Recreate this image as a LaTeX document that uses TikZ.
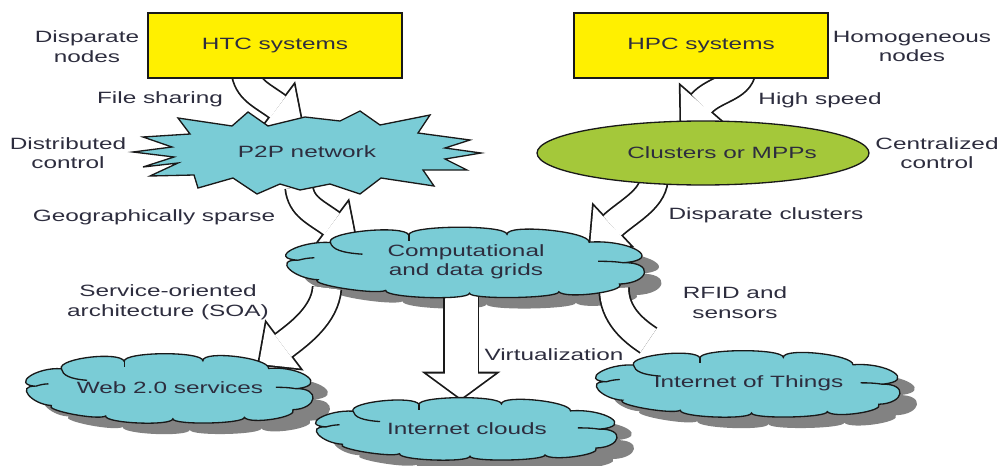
\documentclass[tikz,border=0pt]{standalone}
\usepackage{fontspec}
\setmainfont{Liberation Sans}[FakeStretch=1.49]
\usetikzlibrary{shapes.geometric,decorations.markings,calc}

\definecolor{boxyellow}{RGB}{255,240,0}
\definecolor{skyfill}{RGB}{122,204,214}
\definecolor{leafgreen}{RGB}{164,200,58}
\definecolor{shadowgray}{RGB}{130,130,130}
\definecolor{inkline}{RGB}{25,25,25}
\definecolor{inktext}{RGB}{45,45,62}

\pgfdeclarelayer{shades}
\pgfdeclarelayer{arrows}
\pgfsetlayers{shades,arrows,main}

% hollow block arrow: #1 outer width, #2 inner width, #3 head half width, #4 head length, #5 path
\newcommand\hollowarrow[5]{%
  \draw[line width=#1, draw=inkline, postaction={decorate},
    decoration={markings, mark=at position 1 with {%
      \filldraw[draw=inkline, fill=inkline, line width=2pt, line join=miter]
        (0,#3) -- (#4,0) -- (0,-#3) -- cycle;}}] #5;
  \draw[line width=#2, draw=white, postaction={decorate},
    decoration={markings, mark=at position 1 with {%
      \fill[white] (0,#3) -- (#4,0) -- (0,-#3) -- cycle;}}] #5;
}

% one puff of a cloud: from #1 through #2 to #3
\newcommand\puff[3]{.. controls ($0.3333*#1+1.3333*#2-0.6667*#3$)
  and ($0.3333*#3+1.3333*#2-0.6667*#1$) .. #3}

% cloud outline in unit coordinates (x right, y down)
\newcommand\cloudoutline{(-0.76,-0.55)
  \puff{(-0.76,-0.55)}{(-0.56,-0.88)}{(-0.32,-0.76)}
  \puff{(-0.32,-0.76)}{(-0.05,-0.98)}{(0.23,-0.78)}
  \puff{(0.23,-0.78)}{(0.46,-0.90)}{(0.69,-0.56)}
  \puff{(0.69,-0.56)}{(0.96,-0.33)}{(0.88,0.02)}
  \puff{(0.88,0.02)}{(1.0,0.30)}{(0.86,0.62)}
  \puff{(0.86,0.62)}{(0.72,0.89)}{(0.52,0.84)}
  \puff{(0.52,0.84)}{(0.27,1.0)}{(0.02,0.88)}
  \puff{(0.02,0.88)}{(-0.22,1.0)}{(-0.45,0.80)}
  \puff{(-0.45,0.80)}{(-0.68,0.75)}{(-0.83,0.50)}
  \puff{(-0.83,0.50)}{(-0.99,0.20)}{(-0.94,-0.05)}
  \puff{(-0.94,-0.05)}{(-0.98,-0.34)}{(-0.76,-0.55)} -- cycle}

% cloud with grey shadow and its label: name, centre x, centre y, half width, half height, text
\newcommand\skycloud[6]{%
  \begin{scope}[shift={(#2,#3)}, x=#4, y=-#5]
    \begin{pgfonlayer}{shades}
      \fill[shadowgray, xshift=0.34cm, yshift=-0.22cm] \cloudoutline;
    \end{pgfonlayer}
    \filldraw[cloudline, fill=skyfill] \cloudoutline;
    \draw[cloudline] (-0.76,-0.55) .. controls (-0.75,-0.36) and (-0.70,-0.26) .. (-0.58,-0.22);
    \draw[cloudline] (0.88,0.02) .. controls (0.84,-0.01) and (0.80,-0.02) .. (0.74,-0.02);
    \draw[cloudline] (-0.94,-0.05) .. controls (-0.91,-0.09) and (-0.89,-0.11) .. (-0.85,-0.12);
    \draw[cloudline] (-0.32,-0.76) -- (-0.32,-0.60);
  \end{scope}
  \node[lbl] (#1) at (#2,#3) {#6};
}

\begin{document}
\begin{tikzpicture}[x=0.02cm, y=-0.02cm,
  every node/.style={font=\fontsize{9.3}{11.1}\selectfont, text=inktext, align=center},
  lbl/.style={inner sep=0pt},
  sysbox/.style={draw=inkline, line width=1pt, fill=boxyellow, minimum width=5.08cm, minimum height=1.3cm},
  cloudline/.style={draw=inkline, line width=0.75pt, line join=miter},
  burst/.style={draw=inkline, line width=0.75pt, fill=skyfill, line join=miter}]

\useasboundingbox (0,0) rectangle (1003,466);

% top row
\node[sysbox] (htc) at (275,45.5) {HTC systems};
\node[sysbox] (hpc) at (701,45.5) {HPC systems};
\node[lbl] (dnodes) at (87,46.5) {Disparate\\nodes};
\node[lbl] (hnodes) at (912,46.5) {Homogeneous\\nodes};

% P2P network (explosion shape)
\draw[burst] (133,152) -- (172,147) -- (143,137) -- (190,134) -- (178,118) -- (232,126)
  -- (248,112) -- (268,126) -- (305,117) -- (340,121) -- (360,111) -- (380,125)
  -- (430,115) -- (418,133) -- (470,140) -- (445,148) -- (481,153) -- (445,159)
  -- (467,170) -- (423,170) -- (434,186) -- (381,178) -- (360,194) -- (330,184)
  -- (300,190) -- (280,184) -- (257,194) -- (233,178) -- (198,188) -- (194,175)
  -- (150,176) -- (178,163) -- (143,167) -- (174,157) -- cycle;
\node[lbl] (p2p) at (307,152) {P2P network};

% clusters
\node[ellipse, draw=inkline, line width=0.75pt, fill=leafgreen, minimum width=6.64cm,
  minimum height=1.28cm, inner sep=0pt] (clus) at (703,153) {};
\node[lbl] (cluslbl) at (722,153) {Clusters or MPPs};

\node[lbl] (fshare) at (160,99) {File sharing};
\node[lbl] (hspeed) at (820,100) {High speed};
\node[lbl] (dctrl) at (68,153) {Distributed\\control};
\node[lbl] (cctrl) at (937,153) {Centralized\\control};
\node[lbl] (geo) at (154,217) {Geographically sparse};
\node[lbl] (dclus) at (766,215) {Disparate clusters};

% clouds
\skycloud{grid}{466}{262}{3.57cm}{0.71cm}{Computational\\and data grids}
\skycloud{web}{170}{388}{2.86cm}{0.70cm}{Web 2.0 services}
\skycloud{inet}{467}{428.5}{3.0cm}{0.63cm}{Internet clouds}
\skycloud{iot}{748.5}{383.5}{3.03cm}{0.67cm}{Internet of Things}

\node[lbl] (soa) at (168,302.5) {Service-oriented\\architecture (SOA)};
\node[lbl] (rfid) at (735,302.5) {RFID and\\sensors};
\node[lbl] (virt) at (554,355) {Virtualization};

% connectors
\begin{pgfonlayer}{arrows}
\hollowarrow{0.59cm}{0.52cm}{0.54cm}{0.6cm}
  {($(htc)+(-30,24.5)$) .. controls ($(htc)+(-28,44.5)$) and ($(p2p)+(-45,-57)$) .. ($(p2p)+(-29,-45)$)}
\hollowarrow{0.59cm}{0.52cm}{0.54cm}{0.6cm}
  {($(p2p)+(-8,35)$) .. controls ($(p2p)+(-6,55)$) and ($(grid)+(-150,-50)$) .. ($(grid)+(-134,-38)$)}
\hollowarrow{0.59cm}{0.52cm}{0.54cm}{0.6cm}
  {($(hpc)+(41,24.5)$) .. controls ($(hpc)+(39,42.5)$) and ($(clus)+(11,-64)$) .. ($(clus)+(-2,-49)$)}
\hollowarrow{0.59cm}{0.52cm}{0.54cm}{0.6cm}
  {($(clus)+(-49,27)$) .. controls ($(clus)+(-51,47)$) and ($(grid)+(161,-50)$) .. ($(grid)+(146,-36)$)}
\hollowarrow{0.61cm}{0.54cm}{0.56cm}{0.6cm}
  {($(grid)+(-139,26)$) .. controls ($(grid)+(-141,53)$) and ($(web)+(129,-54)$) .. ($(web)+(113,-42)$)}
\hollowarrow{0.73cm}{0.66cm}{0.68cm}{0.5cm}
  {($(grid)+(-5,23)$) -- ($(inet)+(-6,-55)$)}
\hollowarrow{0.63cm}{0.56cm}{0.6cm}{0.6cm}
  {($(grid)+(148,26)$) .. controls ($(grid)+(148,53)$) and ($(iot)+(-115,-53)$) .. ($(iot)+(-100,-43)$)}
\end{pgfonlayer}

\end{tikzpicture}
\end{document}
